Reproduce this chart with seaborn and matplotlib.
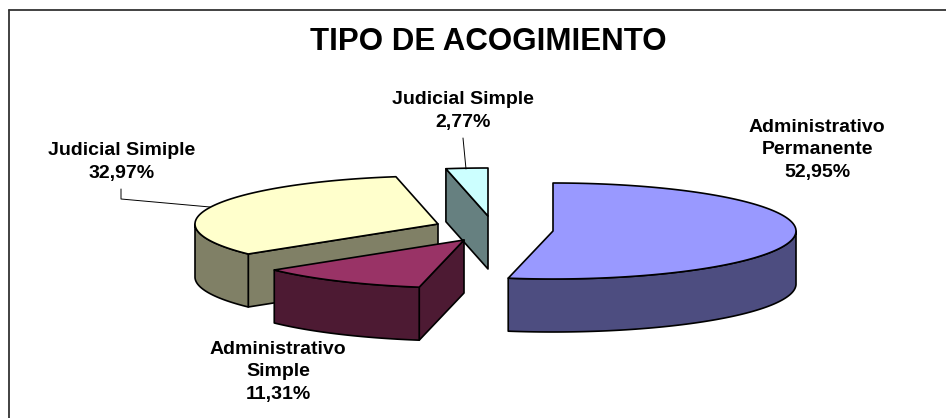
import numpy as np
import matplotlib
matplotlib.use("Agg")
import matplotlib.pyplot as plt
import seaborn as sns

categories = ["Administrativo\nPermanente", "Administrativo\nSimple", "Judicial Simiple", "Judicial Simple"]
values = [52.95, 11.31, 32.97, 2.77]
top_colors = ["#9999FF", "#993366", "#FFFFCC", "#CCFFFF"]
side_colors = ["#4D4D80", "#4D1A33", "#808066", "#668080"]
title_text = "TIPO DE ACOGIMIENTO"

sns.set_theme(style="white")
plt.rcParams["font.family"] = ["Liberation Sans", "DejaVu Sans"]

# layout (pixels of the figure)
W, H = 946, 418
RX, RY, DEPTH = 243, 48, 53
APEX = [(553, 231), (464, 240), (438, 224), (488, 216)]
LABEL_POS = [(817, 150), (278, 372), (122, 162), (463, 111)]
DRAW_ORDER = [2, 3, 0, 1]
LW = 1.2

fig = plt.figure(figsize=(W / 100, H / 100), dpi=100)
ax = fig.add_axes([0, 0, 1, 1])
ax.set_xlim(0, W)
ax.set_ylim(H, 0)
ax.axis("off")


def rim(cx, cy, a0, a1, dy=0):
    t = np.radians(np.linspace(a0, a1, max(int(abs(a1 - a0) * 2), 2)))
    return cx + RX * np.sin(t), cy - RY * np.cos(t) + dy


def face(x, y, color, z):
    ax.fill(x, y, facecolor=color, edgecolor="black", linewidth=LW, joinstyle="round", zorder=z)


edges = np.concatenate([[0], np.cumsum(values)]) / sum(values) * 360
for z, i in enumerate(DRAW_ORDER):
    a0, a1 = edges[i], edges[i + 1]
    cx, cy = APEX[i]
    base = 10 * z
    # cut face along the starting radius, when it looks towards the viewer
    if np.sin(np.radians(a0)) < -1e-6:
        ex, ey = rim(cx, cy, a0, a0)
        face([cx, ex[0], ex[0], cx], [cy, ey[0], ey[0] + DEPTH, cy + DEPTH], side_colors[i], base + 1)
    # outer wall, front half only
    w0, w1 = max(a0, 90), min(a1, 270)
    if w1 > w0:
        xs, ys = rim(cx, cy, w0, w1)
        face(np.r_[xs, xs[::-1]], np.r_[ys, ys[::-1] + DEPTH], side_colors[i], base + 2)
    # top face
    xs, ys = rim(cx, cy, a0, a1)
    face(np.r_[cx, xs], np.r_[cy, ys], top_colors[i], base + 3)
    # label
    pct = f"{values[i]:.2f}%".replace(".", ",")
    ax.text(*LABEL_POS[i], f"{categories[i]}\n{pct}", ha="center", va="center", ma="center",
            fontsize=14, fontweight="bold", color="black", linespacing=1.42, zorder=100)

# leader lines
ax.plot([121, 121, 210], [189, 199, 207], color="black", lw=0.7, zorder=50)
ax.plot([463, 466], [138, 169], color="black", lw=0.7, zorder=50)

# open chart frame
ax.plot([9, 9], [H, 10], color="#333333", lw=1.3, zorder=60, clip_on=False)
ax.plot([9, W], [10, 10], color="#333333", lw=1.3, zorder=60, clip_on=False)

ax.text(488, 42, title_text, ha="center", va="center", fontsize=22.5, fontweight="bold", color="black")

fig.savefig("out.png", dpi=100, facecolor="white")
